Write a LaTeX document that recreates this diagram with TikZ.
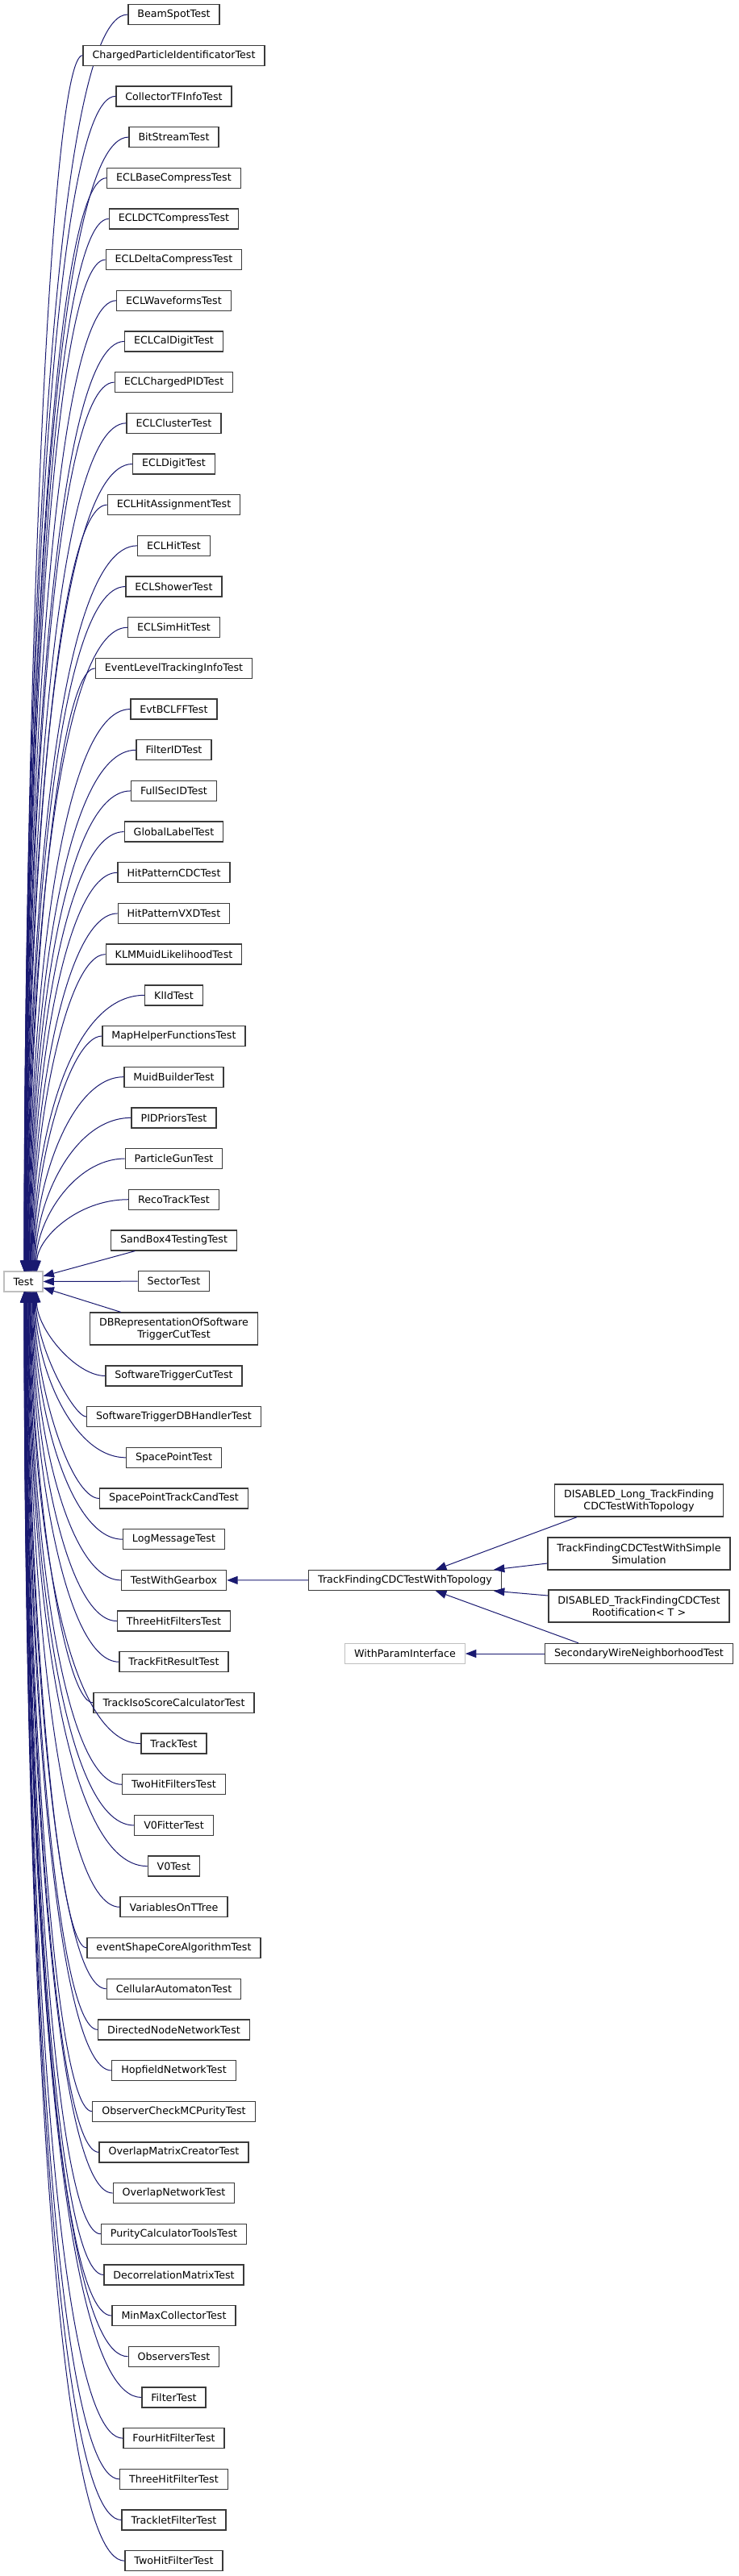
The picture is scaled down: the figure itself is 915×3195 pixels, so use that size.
\documentclass[tikz,border=0pt]{standalone}
\usepackage{fontspec}
\setmainfont{DejaVu Sans}
\usepackage{tikz}
\usetikzlibrary{arrows.meta, calc, positioning}
\definecolor{edgeblue}{HTML}{191970}
\definecolor{boxgray}{HTML}{3A3A3A}
\definecolor{extgray}{HTML}{BFBFBF}

\begin{document}
\begin{tikzpicture}[x=0.75pt, y=-0.75pt,
    every node/.style={font=\fontsize{9.5}{11.25}\selectfont},
    cls/.style={draw=boxgray, line width=1pt, fill=white, align=center,
        minimum height=18.75pt, inner xsep=8.6pt, inner ysep=2pt},
    cls2/.style={cls, minimum height=30pt},
    ext/.style={cls, draw=extgray},
    inh/.style={draw=edgeblue, line width=0.75pt, {Triangle[length=10pt,width=7.5pt]}-}]
    \useasboundingbox (0,0) rectangle (915,3195);

    % base class
    \node[ext] (test) at (29,1589.5) {Test};

    % derived classes, one column
    \foreach \txt [count=\i] in {BeamSpotTest, ChargedParticleIdentificatorTest,
        CollectorTFInfoTest, BitStreamTest, ECLBaseCompressTest, ECLDCTCompressTest,
        ECLDeltaCompressTest, ECLWaveformsTest, ECLCalDigitTest, ECLChargedPIDTest,
        ECLClusterTest, ECLDigitTest, ECLHitAssignmentTest, ECLHitTest, ECLShowerTest,
        ECLSimHitTest, EventLevelTrackingInfoTest, EvtBCLFFTest, FilterIDTest,
        FullSecIDTest, GlobalLabelTest, HitPatternCDCTest, HitPatternVXDTest,
        KLMMuidLikelihoodTest, KlIdTest, MapHelperFunctionsTest, MuidBuilderTest,
        PIDPriorsTest, ParticleGunTest, RecoTrackTest, SandBox4TestingTest, SectorTest,
        {DBRepresentationOfSoftware\\TriggerCutTest}, SoftwareTriggerCutTest,
        SoftwareTriggerDBHandlerTest, SpacePointTest, SpacePointTrackCandTest,
        LogMessageTest, TestWithGearbox, ThreeHitFiltersTest, TrackFitResultTest,
        TrackIsoScoreCalculatorTest, TrackTest, TwoHitFiltersTest, V0FitterTest, V0Test,
        VariablesOnTTree, eventShapeCoreAlgorithmTest, CellularAutomatonTest,
        DirectedNodeNetworkTest, HopfieldNetworkTest, ObserverCheckMCPurityTest,
        OverlapMatrixCreatorTest, OverlapNetworkTest, PurityCalculatorToolsTest,
        DecorrelationMatrixTest, MinMaxCollectorTest, ObserversTest, FilterTest,
        FourHitFilterTest, ThreeHitFilterTest, TrackletFilterTest, TwoHitFilterTest} {
        \pgfmathsetmacro{\yy}{ifthenelse(\i==33,1648,18+(\i-1)*50.68+(\i>33)*16)}
        \pgfmathsetmacro{\mh}{ifthenelse(\i==33,30,18.75)}
        \node[cls, minimum height=\mh pt] (c\i) at (215.5,\yy) {\txt};
        \pgfmathtruncatemacro{\near}{and(\i>30,\i<34)}
        \ifnum\near=1
            \draw[inh] (test) -- (c\i);
        \else
            \pgfmathsetmacro{\oy}{ifthenelse(\yy<1589.5,-12.5,12.5)}
            \pgfmathsetmacro{\ff}{1-abs(\yy-1589.5)/1600}
            \pgfmathsetmacro{\tx}{30+18*\ff*\ff}
            \pgfmathsetmacro{\cx}{60+40*\ff*\ff}
            \pgfmathsetmacro{\cy}{1589.5+\oy+0.45*(\yy-1589.5-\oy)}
            \draw[inh] ($(test.center)+(\tx-29,\oy)$) .. controls (\tx,\cy) and (\cx,\yy) .. (c\i.west);
        \fi
    }

    % TestWithGearbox branch
    \node[cls] (tfcdc) at (502,1960) {TrackFindingCDCTestWithTopology};
    \node[cls2] (dislong) at (792,1861) {DISABLED\_Long\_TrackFinding\\CDCTestWithTopology};
    \node[cls2] (simsim) at (792,1927) {TrackFindingCDCTestWithSimple\\Simulation};
    \node[cls2] (disroot) at (792,1992) {DISABLED\_TrackFindingCDCTest\\Rootification< T >};
    \node[cls] (secwire) at (792,2051) {SecondaryWireNeighborhoodTest};
    \node[ext] (withparam) at (502,2051) {WithParamInterface};

    \draw[inh] (c39) -- (tfcdc);
    \draw[inh] ($(tfcdc.north)+(38,0)$) -- ($(dislong.south)+(-77,0)$);
    \draw[inh] ($(tfcdc.north east)+(-10,0)$) -- ($(simsim.west)+(0,12)$);
    \draw[inh] ($(tfcdc.south east)+(-10,0)$) -- ($(disroot.west)+(0,-13)$);
    \draw[inh] ($(tfcdc.south)+(38,0)$) -- ($(secwire.north)+(-75,0)$);
    \draw[inh] (withparam) -- (secwire);
\end{tikzpicture}
\end{document}
